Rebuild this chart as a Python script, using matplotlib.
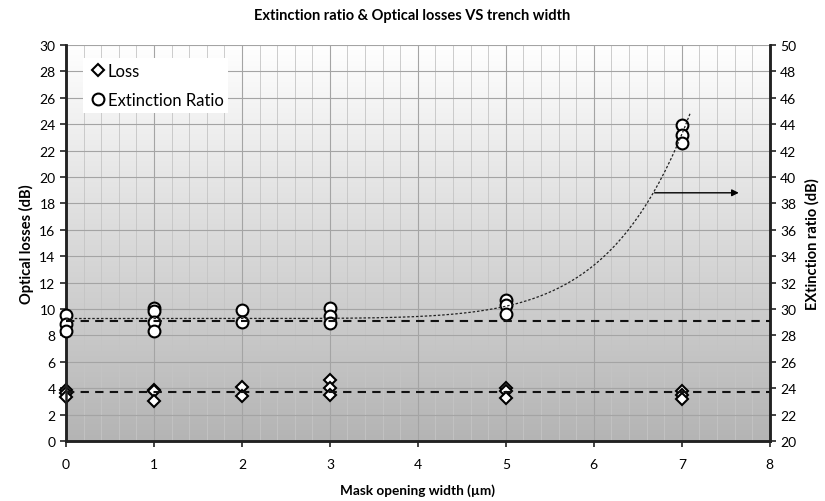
import numpy as np
import matplotlib.pyplot as plt
from matplotlib.colors import LinearSegmentedColormap

plt.rcParams['font.family'] = ['Lato', 'DejaVu Sans']

# Loss (left axis, dB)
loss_x = [0, 0, 0, 1, 1, 1, 2, 2, 3, 3, 3, 5, 5, 5, 7, 7, 7]
loss_y = [3.9, 3.6, 3.35, 3.9, 3.8, 3.05, 4.1, 3.4, 4.6, 4.0, 3.45, 4.05, 3.8, 3.25, 3.8, 3.45, 3.2]

# Extinction ratio (right axis, dB)
er_x = [0, 0, 0, 1, 1, 1, 1, 2, 2, 3, 3, 3, 5, 5, 5, 7, 7, 7]
er_y = [29.55, 28.9, 28.3, 30.05, 29.85, 29.0, 28.35, 29.9, 29.05,
        30.05, 29.45, 28.95, 30.65, 30.3, 29.65, 43.9, 43.2, 42.55]

loss_level = 3.7
er_level = 29.1

fig = plt.figure(figsize=(8.25, 5.02), dpi=100)
ax = fig.add_axes([0.08, 0.1195, 0.853, 0.789])
ax2 = ax.twinx()

# gradient background, white at top to grey at bottom
cmap = LinearSegmentedColormap.from_list('bg', ['#ffffff', '#b4b4b4'])
grad = np.linspace(0, 1, 256).reshape(-1, 1)
ax.imshow(grad, cmap=cmap, aspect='auto', extent=[0, 8, 0, 30], zorder=0, vmin=0, vmax=1)

ax.set_xlim(0, 8)
ax.set_ylim(0, 30)
ax2.set_ylim(20, 50)
ax.set_xticks(range(0, 9))
ax.set_xticks(np.arange(0, 8.01, 0.2), minor=True)
ax.set_yticks(range(0, 31, 2))
ax2.set_yticks(range(20, 51, 2))
ax.grid(True, which='major', color='#a4a4a4', lw=0.8, zorder=1)
ax.grid(True, which='minor', axis='x', color='#c4c4c4', lw=0.6, zorder=1)
ax.tick_params(which='minor', length=0)
ax.set_axisbelow(True)

for a in (ax, ax2):
    a.spines['top'].set_visible(False)
    for s in ('left', 'right', 'bottom'):
        a.spines[s].set_linewidth(1.8)
        a.spines[s].set_color('#222222')
    a.tick_params(which='major', direction='out', length=4, width=1.2, labelsize=10, color='#222222')
ax.tick_params(axis='x', pad=8)

# data
ax.plot(loss_x, loss_y, 'D', ms=6.5, mfc='white', mec='black', mew=1.5,
        label='Loss', zorder=3, clip_on=False)
ax2.plot(er_x, er_y, 'o', ms=8.5, mfc='white', mec='black', mew=1.5,
         label='Extinction Ratio', zorder=3, clip_on=False)

ax.axhline(loss_level, color='#111111', ls=(0, (4, 3)), lw=1.5, zorder=4)
ax2.axhline(er_level, color='#111111', ls=(0, (4, 3)), lw=1.5, zorder=4)

# power trend line y = a + b*x^n, least squares on the ER points
ex = np.array(er_x, dtype=float)
ey = np.array(er_y)
best = None
for n in np.linspace(1, 14, 521):
    A = np.column_stack([np.ones_like(ex), ex ** n])
    sol = np.linalg.lstsq(A, ey, rcond=None)[0]
    err = np.sum((A @ sol - ey) ** 2)
    if best is None or err < best[0]:
        best = (err, sol, n)
_, (fa, fb), fn = best
tx = np.linspace(0, 7.1, 200)
ax2.plot(tx, fa + fb * tx ** fn, color='#222222', ls=(0, (2, 1.5)), lw=0.9, zorder=4)

ax2.annotate('', xy=(7.68, 38.8), xytext=(6.66, 38.8),
             arrowprops=dict(arrowstyle='-|>', color='black', lw=1.0, mutation_scale=10))

h1, l1 = ax.get_legend_handles_labels()
h2, l2 = ax2.get_legend_handles_labels()
leg = ax2.legend(h1 + h2, l1 + l2, loc='upper left', bbox_to_anchor=(0.02, 0.975),
                 frameon=True, fancybox=False, edgecolor='none', facecolor='white',
                 framealpha=1, fontsize=12, handletextpad=0.05, handlelength=1.1,
                 labelspacing=0.75, borderpad=0.3, borderaxespad=0.2)

fig.text(0.5, 0.968, 'Extinction ratio & Optical losses VS trench width',
         ha='center', va='center', fontsize=10.5, fontweight='bold')
ax.set_xlabel('Mask opening width (µm)', fontsize=9.8, fontweight='bold', labelpad=10)
ax.set_ylabel('Optical losses (dB)', fontsize=10.5, fontweight='bold', labelpad=4)
ax2.set_ylabel('EXtinction ratio (dB)', fontsize=10.5, fontweight='bold', labelpad=6)

fig.savefig('out.png', dpi=100)
